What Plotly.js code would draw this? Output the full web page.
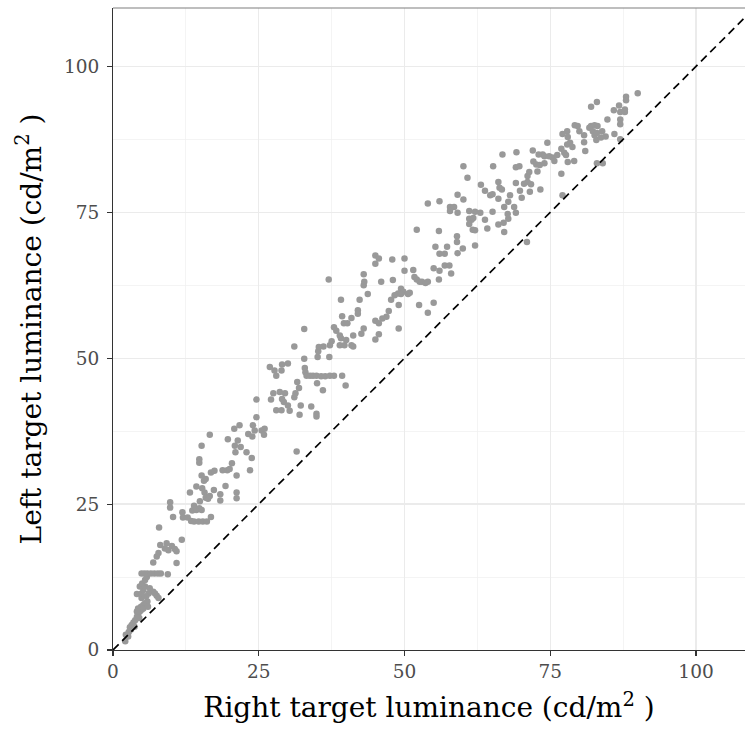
<!DOCTYPE html>
<html>
<head>
<meta charset="utf-8">
<script src="https://cdn.plot.ly/plotly-3.0.1.min.js"></script>
<style>html,body{margin:0;padding:0;background:#fff;}#chart{width:745px;height:729px;}</style>
</head>
<body>
<div id="chart"></div>
<script>
// Right target luminance (x) and Left target luminance (y), cd/m^2
const rightLum = [
 2.1,2.2,2.7,2.9,3.2,3.5,3.8,4.1,4.3,4.6,4.9,2.6,3.1,4.1,4.3,4.8,5.2,5.5,5.9,5.2,4.1,4.9,4.9,5.2,5.5,6.1,6.3,6.9,7.2,7.5,7.8,4.6,5.0,5.5,5.8,4.9,5.4,5.9,6.5,7.1,7.7,8.2,9.4,6.9,7.5,7.8,8.1,8.9,9.2,9.5,10.1,10.6,10.9,10.9,11.8,3.7,4.5,6.0,5.7,
 7.9,9.8,9.8,10.3,11.9,12.0,12.8,13.4,13.9,14.7,15.4,16.1,16.8,13.6,13.9,14.3,14.8,15.2,14.9,13.2,14.3,15.3,15.7,15.9,16.3,16.6,17.3,18.4,18.4,19.3,21.2,21.2,15.2,15.6,15.9,16.8,17.4,18.8,19.6,20.0,20.4,21.2,14.8,14.8,15.2,16.6,19.7,20.9,21.4,21.0,21.9,22.9,23.8,23.5,20.8,
 21.7,23.2,23.9,24.3,24.0,25.5,26.0,25.9,24.6,24.6,27.1,27.5,28.6,29.5,29.0,29.3,28.0,28.9,30.0,30.3,31.1,31.3,31.9,31.6,32.0,32.2,34.0,34.9,34.9,26.9,27.7,28.0,28.9,29.0,30.0,31.1,32.8,32.8,32.9,33.0,33.2,33.8,34.3,34.9,35.7,36.4,37.2,37.9,36.0,35.0,39.3,39.9,35.1,35.2,35.3,36.1,37.1,37.2,37.5,37.9,38.3,31.5,37.0,
 39.1,39.7,38.9,38.9,40.9,41.2,39.3,39.1,39.6,40.2,40.9,42.0,42.0,42.3,43.7,43.0,43.1,43.0,45.0,45.0,45.6,46.0,47.9,48.0,50.0,50.0,52.1,55.9,59.0,59.0,60.0,55.3,56.0,56.9,57.3,59.1,55.0,56.0,56.9,57.7,58.0,55.9,51.5,51.7,52.1,52.6,53.0,53.6,54.0,49.4,49.8,49.4,48.9,49.0,50.6,50.9,47.7,48.3,47.3,46.9,46.2,45.0,45.6,43.0,42.6,45.0,45.6,49.0,52.5,54.0,55.0,40.0,41.2,
 62.1,57.8,58.5,59.1,59.1,60.1,60.1,60.8,61.1,61.1,61.5,61.8,62.1,63.0,61.1,61.7,62.1,63.8,64.2,65.1,66.1,67.1,67.0,67.8,67.7,63.1,63.8,64.7,65.1,66.1,66.3,66.7,66.1,67.1,67.8,68.1,68.8,69.1,65.2,66.8,69.2,69.1,69.7,69.1,69.8,70.1,70.5,71.1,71.4,71.7,71.5,72.0,72.1,72.6,72.8,73.0,73.7,73.2,73.3,71.1,57.8,71.0,54.0,56.0,
 74.5,74.0,74.0,74.8,75.4,75.7,76.2,77.1,77.9,78.0,76.9,77.4,77.7,77.9,78.4,78.8,78.0,79.1,76.9,77.1,79.2,79.7,80.0,80.8,81.0,82.0,83.0,82.0,82.6,83.1,82.3,82.6,82.9,83.0,83.7,84.5,84.8,83.9,83.0,84.0,85.9,86.0,86.8,87.0,87.0,87.0,87.0,88.0,88.0,87.8,87.8,90.0,81.7,80.8
];
const leftLum = [
 1.5,2.6,3.1,3.9,4.3,4.7,5.1,5.7,6.2,6.6,6.9,2.3,3.5,6.6,7.1,7.4,7.7,8.0,8.3,7.1,9.6,8.9,9.7,10.3,10.9,9.7,10.6,10.0,9.7,9.3,8.9,10.9,11.4,12.0,12.5,13.1,13.1,13.1,13.1,13.1,13.1,13.1,13.0,15.0,16.0,16.6,18.0,17.4,18.3,17.1,17.8,17.3,16.9,14.9,18.9,4.0,5.5,7.4,9.2,
 21.0,25.3,24.4,22.8,23.6,22.7,22.7,22.1,22.0,22.0,22.0,22.0,22.8,23.9,24.7,24.0,24.3,24.0,25.5,27.0,28.0,27.7,27.0,26.1,25.9,26.4,27.4,26.7,25.6,28.1,27.0,26.0,29.9,29.0,29.3,30.4,30.7,30.8,30.8,31.0,32.0,29.9,32.7,32.1,35.0,36.9,36.1,35.0,35.9,33.9,34.8,33.9,32.9,30.8,37.9,
 38.5,37.0,36.6,37.6,38.5,37.6,37.9,36.9,39.9,42.9,42.9,44.0,44.2,44.0,43.0,42.5,41.1,41.1,41.9,41.0,43.3,44.0,44.9,45.9,40.3,41.9,41.7,40.5,40.0,48.5,47.9,47.0,47.9,48.9,49.1,52.0,55.0,49.9,48.3,47.6,47.0,47.0,47.0,47.0,46.9,46.9,47.0,47.0,44.5,45.7,47.0,45.3,50.2,51.2,51.9,52.0,50.2,52.2,52.9,55.3,54.7,34.0,63.5,
 53.4,52.2,52.2,53.9,52.2,53.9,57.2,60.0,56.0,56.0,56.9,58.2,57.6,60.0,61.0,62.5,63.1,64.4,66.2,67.6,67.1,63.1,66.9,63.4,67.1,65.0,72.0,71.8,70.9,69.9,68.8,69.1,67.9,67.9,69.1,68.0,65.4,65.0,65.9,65.9,64.5,63.5,65.1,63.9,63.5,63.1,63.1,62.9,63.1,61.9,61.4,61.0,61.1,59.1,61.0,61.2,60.0,60.8,58.1,57.1,56.8,56.4,56.0,55.1,54.2,53.2,54.1,55.1,59.1,57.8,59.5,53.1,52.0,
 69.3,75.9,75.9,74.9,78.0,77.2,82.9,80.9,75.2,73.9,73.7,74.0,75.1,74.9,73.0,72.0,71.9,73.7,72.2,75.1,72.9,71.6,73.2,73.9,74.7,79.7,78.7,77.9,78.1,80.2,79.2,78.9,77.3,75.9,76.8,77.9,75.9,74.9,82.9,84.9,85.3,82.7,82.9,80.0,78.7,77.5,79.9,81.2,81.9,79.8,78.5,85.6,83.7,83.2,82.0,84.9,84.9,83.1,78.9,80.2,75.2,69.9,76.5,76.9,
 86.9,84.6,83.4,84.6,84.4,83.8,84.8,88.4,88.9,87.9,85.9,85.2,84.8,86.6,86.9,86.2,83.6,83.8,81.6,77.9,89.9,89.8,88.9,87.0,85.5,93.1,93.9,89.8,89.9,89.8,88.9,88.2,87.4,88.6,87.8,88.0,90.9,88.9,83.4,83.4,92.5,88.4,93.3,92.2,90.9,90.1,87.5,94.8,94.2,92.6,92.2,95.4,89.5,88.2
];
const identityLine = [0, 110];
const axisTicks = [0, 25, 50, 75, 100];
const xTitle = 'Right target luminance (cd/m<sup>2</sup> )';
const yTitle = 'Left target luminance (cd/m<sup>2</sup> )';

const serif = 'DejaVu Serif, Liberation Serif, serif';
const traces = [
  {x: rightLum, y: leftLum, type: 'scatter', mode: 'markers',
   marker: {color: '#999999', size: 6.5, line: {width: 0}}, hoverinfo: 'x+y', cliponaxis: true},
  {x: identityLine, y: identityLine, type: 'scatter', mode: 'lines',
   line: {color: '#000000', width: 1.7, dash: '8px,5px'}, hoverinfo: 'skip'}
];
const axisBase = {
  tickvals: axisTicks, ticks: 'outside', ticklen: 5, tickwidth: 1.1, tickcolor: '#333333',
  showline: true, linecolor: '#333333', linewidth: 1.1, zeroline: false,
  showgrid: true, gridcolor: '#ebebeb', gridwidth: 1.2,
  minor: {dtick: 12.5, tick0: 0, showgrid: true, gridcolor: '#f0f0f0', gridwidth: 0.7, ticks: ''},
  tickfont: {family: serif, size: 18.5, color: '#4d4d4d'}
};
const layout = {
  width: 745, height: 729,
  margin: {l: 113, r: 0, t: 8, b: 79},
  paper_bgcolor: '#ffffff', plot_bgcolor: '#ffffff',
  showlegend: false,
  font: {family: serif},
  xaxis: Object.assign({}, axisBase, {range: [0, 108.4],
    title: {text: xTitle, font: {family: serif, size: 28, color: '#000000'}, standoff: 16}}),
  yaxis: Object.assign({}, axisBase, {range: [0, 110], ticklabelstandoff: 4,
    title: {text: yTitle, font: {family: serif, size: 28, color: '#000000'}, standoff: 14}}),
  shapes: [
    {type: 'line', xref: 'paper', yref: 'paper', x0: 0, x1: 1, y0: 1, y1: 1,
     line: {color: '#7f7f7f', width: 1.1}}
  ]
};
Plotly.newPlot('chart', traces, layout, {displayModeBar: false, staticPlot: true});
</script>
</body>
</html>
